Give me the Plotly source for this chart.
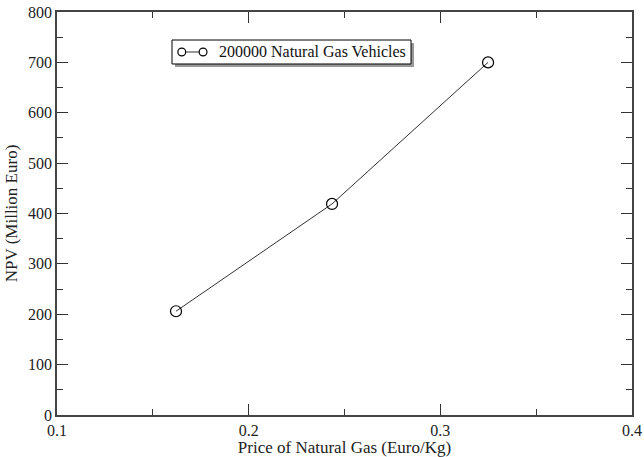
import plotly.graph_objects as go

price = [0.1621, 0.2435, 0.3249]
npv = [206, 419, 700]
series_name = "200000 Natural Gas Vehicles"

FONT = "Liberation Serif, Times New Roman, serif"

fig = go.Figure()
fig.add_trace(go.Scatter(
    x=price, y=npv, mode="lines+markers", name=series_name,
    line=dict(color="#333333", width=1),
    marker=dict(symbol="circle-open", size=11, color="black", line=dict(width=1.2)),
    showlegend=False,
))

axis_common = dict(
    showline=True, linecolor="#444444", linewidth=1.5, mirror="allticks",
    ticks="inside", ticklen=11, tickwidth=1.2, tickcolor="#333333",
    showgrid=False, zeroline=False, automargin=False,
    tickfont=dict(family=FONT, size=16, color="#222222"),
)

fig.update_xaxes(
    range=[0.1, 0.4], dtick=0.1, tick0=0.1, tickformat=".1f",
    minor=dict(ticks="inside", ticklen=6, dtick=0.05, tick0=0.1, tickcolor="#333333", showgrid=False),
    title=dict(text="Price of Natural Gas (Euro/Kg)", font=dict(family=FONT, size=17, color="#222222"), standoff=2),
    **axis_common,
)
fig.update_yaxes(
    range=[0, 800], dtick=100,
    minor=dict(ticks="inside", ticklen=6, dtick=50, tickcolor="#333333", showgrid=False),
    title=dict(text="NPV (Million Euro)", font=dict(family=FONT, size=17, color="#222222"), standoff=6),
    **axis_common,
)

# custom legend box (xmgrace style)
lx0, lx1, ly0, ly1 = 0.2, 0.6157, 0.871, 0.9305
sx, sy = 0.0052, 0.0074
fig.add_shape(type="rect", xref="paper", yref="paper", x0=lx0 + sx, x1=lx1 + sx, y0=ly0 - sy, y1=ly1 - sy,
              fillcolor="#999999", line=dict(width=0), layer="above")
fig.add_shape(type="rect", xref="paper", yref="paper", x0=lx0, x1=lx1, y0=ly0, y1=ly1,
              fillcolor="white", line=dict(color="black", width=1), layer="above")
ym = (ly0 + ly1) / 2
c1, c2 = 0.217, 0.254
fig.add_shape(type="line", xref="paper", yref="paper", x0=c1, x1=c2, y0=ym, y1=ym,
              line=dict(color="#333333", width=1), layer="above")
for cx in (c1, c2):
    fig.add_shape(type="circle", xref="paper", yref="paper",
                  x0=cx - 0.0068, x1=cx + 0.0068, y0=ym - 0.0097, y1=ym + 0.0097,
                  fillcolor="white", line=dict(color="black", width=1.2), layer="above")
fig.add_annotation(xref="paper", yref="paper", x=0.2817, y=ym, xanchor="left", yanchor="middle",
                   text=series_name, showarrow=False, xshift=-2,
                   font=dict(family=FONT, size=16, color="#111111"))

fig.update_layout(
    width=644, height=457,
    margin=dict(l=57, r=12, t=12, b=42),
    paper_bgcolor="white", plot_bgcolor="white",
    font=dict(family=FONT),
)

fig.write_html("out.html")
